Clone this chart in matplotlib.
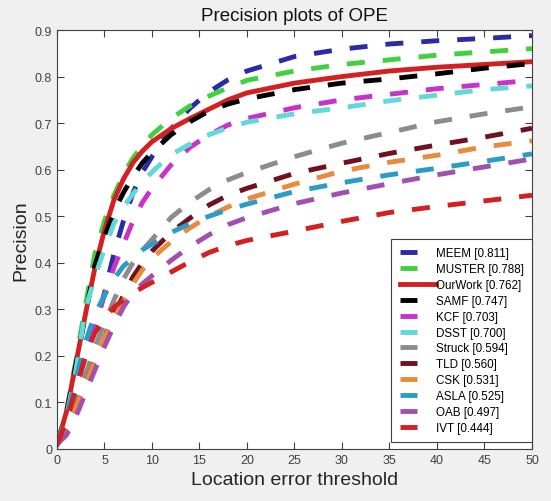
# -*- coding: utf-8 -*-
"""
Precision plots of OPE: curvas de precision vs umbral de error de localizacion
para 12 trackers (estilo figura MATLAB).
"""

import numpy as np
import matplotlib
matplotlib.use('Agg')
import matplotlib.pyplot as plt
from matplotlib.legend_handler import HandlerLine2D

# =============================================================================
# 1. Datos
# =============================================================================
umbral = [0, 1, 2, 3, 4, 5, 6, 7, 8, 9, 10, 12, 14, 16, 18, 20, 25, 30, 35, 40, 45, 50]

meem    = [0.01, 0.06, 0.13, 0.20, 0.26, 0.335, 0.42, 0.49, 0.55, 0.595, 0.628, 0.688, 0.732, 0.767, 0.793, 0.812, 0.843, 0.859, 0.870, 0.877, 0.882, 0.888]
muster  = [0.01, 0.08, 0.19, 0.31, 0.42, 0.49, 0.545, 0.59, 0.625, 0.652, 0.675, 0.71, 0.737, 0.758, 0.776, 0.792, 0.812, 0.826, 0.836, 0.846, 0.853, 0.860]
ourwork = [0.01, 0.08, 0.185, 0.29, 0.39, 0.47, 0.535, 0.58, 0.615, 0.64, 0.66, 0.688, 0.71, 0.73, 0.75, 0.765, 0.786, 0.800, 0.812, 0.820, 0.826, 0.832]
samf    = [0.01, 0.075, 0.18, 0.29, 0.395, 0.455, 0.51, 0.551, 0.585, 0.615, 0.637, 0.675, 0.703, 0.726, 0.741, 0.752, 0.772, 0.786, 0.795, 0.806, 0.818, 0.828]
kcf     = [0.01, 0.06, 0.13, 0.20, 0.27, 0.33, 0.39, 0.44, 0.49, 0.53, 0.56, 0.61, 0.648, 0.675, 0.696, 0.710, 0.733, 0.750, 0.762, 0.774, 0.783, 0.792]
dsst    = [0.01, 0.07, 0.17, 0.30, 0.37, 0.43, 0.485, 0.52, 0.548, 0.573, 0.595, 0.632, 0.655, 0.675, 0.69, 0.702, 0.720, 0.733, 0.748, 0.760, 0.772, 0.780]
struck  = [0.01, 0.04, 0.10, 0.16, 0.22, 0.27, 0.32, 0.365, 0.40, 0.427, 0.45, 0.497, 0.53, 0.557, 0.578, 0.594, 0.628, 0.657, 0.680, 0.703, 0.720, 0.735]
tld     = [0.01, 0.04, 0.09, 0.14, 0.19, 0.24, 0.29, 0.33, 0.37, 0.40, 0.425, 0.465, 0.496, 0.524, 0.545, 0.560, 0.592, 0.614, 0.635, 0.653, 0.670, 0.689]
csk     = [0.01, 0.04, 0.09, 0.14, 0.19, 0.24, 0.28, 0.32, 0.355, 0.385, 0.41, 0.445, 0.475, 0.50, 0.52, 0.537, 0.569, 0.597, 0.616, 0.631, 0.649, 0.662]
asla    = [0.01, 0.07, 0.15, 0.23, 0.29, 0.33, 0.365, 0.393, 0.41, 0.428, 0.44, 0.465, 0.484, 0.50, 0.514, 0.526, 0.553, 0.572, 0.589, 0.603, 0.618, 0.634]
oab     = [0.01, 0.03, 0.07, 0.12, 0.17, 0.22, 0.265, 0.305, 0.335, 0.355, 0.372, 0.405, 0.435, 0.46, 0.482, 0.497, 0.527, 0.550, 0.570, 0.589, 0.606, 0.623]
ivt     = [0.01, 0.06, 0.13, 0.20, 0.25, 0.28, 0.305, 0.32, 0.335, 0.347, 0.358, 0.38, 0.402, 0.422, 0.437, 0.448, 0.468, 0.489, 0.508, 0.521, 0.533, 0.545]

nombres = ['MEEM [0.811]', 'MUSTER [0.788]', 'OurWork [0.762]', 'SAMF [0.747]',
           'KCF [0.703]', 'DSST [0.700]', 'Struck [0.594]', 'TLD [0.560]',
           'CSK [0.531]', 'ASLA [0.525]', 'OAB [0.497]', 'IVT [0.444]']
series = [meem, muster, ourwork, samf, kcf, dsst, struck, tld, csk, asla, oab, ivt]
colores = ['#2b2ba8', '#40d040', '#d42020', '#000000', '#c832c8', '#62d8d8',
           '#8c8c8c', '#701020', '#ea8a3c', '#2a9cc8', '#a050b0', '#d42020']


# el handle de la linea solida sale mas largo en el original (se mete en el texto)
class HandlerLargo(HandlerLine2D):
    def create_artists(self, legend, orig_handle, xdescent, ydescent,
                       width, height, fontsize, trans):
        return super().create_artists(legend, orig_handle, xdescent, ydescent,
                                      width * 2.1, height, fontsize, trans)


# =============================================================================
# 2. Figura
# =============================================================================
plt.rcParams['font.family'] = ['Liberation Sans', 'DejaVu Sans']

fig = plt.figure(figsize=(5.51, 5.02), dpi=100, facecolor='#f0f0f0')
ax = fig.add_axes([0.1034, 0.1036, 0.8621, 0.8346])
ax.set_facecolor('white')

lineas = []
for nombre, ys, c in zip(nombres, series, colores):
    if nombre.startswith('OurWork'):
        ln, = ax.plot(umbral, ys, color=c, linewidth=3.5, label=nombre)
        linea_ours = ln
    else:
        ln, = ax.plot(umbral, ys, color=c, linewidth=3.5,
                      linestyle=(0, (3.7, 3.7)), label=nombre)
    lineas.append(ln)

ax.set_xlim(0, 50)
ax.set_ylim(0, 0.9)
ax.set_xticks(np.arange(0, 51, 5))
ax.set_yticks(np.arange(0, 0.91, 0.1))
ax.set_yticklabels(['0'] + [f'{v:.1f}' for v in np.arange(0.1, 0.91, 0.1)])

gris = '#404040'
ax.tick_params(direction='in', top=True, right=True, length=5, width=0.8,
               colors=gris, labelsize=9)
for s in ax.spines.values():
    s.set_color(gris)
    s.set_linewidth(0.8)

ax.set_title('Precision plots of OPE', fontsize=13.5, color='#111111', pad=7)
ax.set_xlabel('Location error threshold', fontsize=14, color='#262626')
ax.set_ylabel('Precision', fontsize=14, color='#262626')

leg = ax.legend(handles=lineas, loc='lower right', bbox_to_anchor=(1.0, 0.017),
                borderaxespad=0, fontsize=8.4, labelspacing=0.33,
                handlelength=1.5, handletextpad=1.6, fancybox=False,
                framealpha=1, edgecolor=gris, borderpad=0.7,
                handler_map={linea_ours: HandlerLargo()})
leg.get_frame().set_linewidth(0.8)

fig.savefig('out.png', dpi=100, facecolor=fig.get_facecolor())
